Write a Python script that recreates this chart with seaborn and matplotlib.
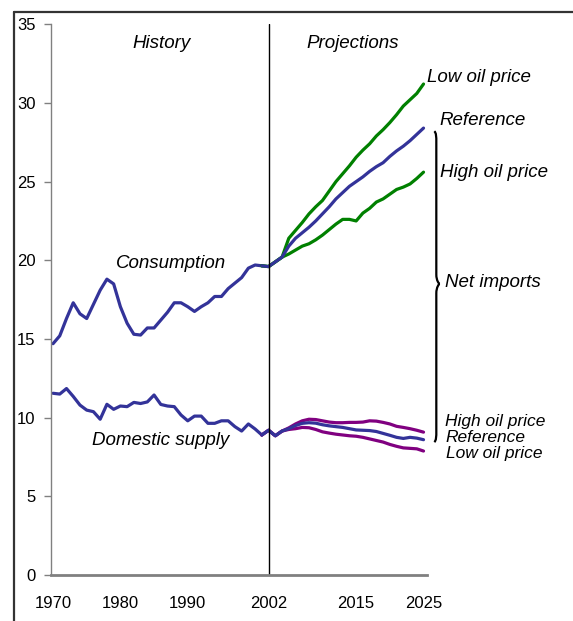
import numpy as np
import matplotlib
matplotlib.use("Agg")
import matplotlib.pyplot as plt
from matplotlib.path import Path
from matplotlib.patches import PathPatch
from matplotlib.lines import Line2D
import seaborn as sns

# History (1970-2001)
hist_years = list(range(1970, 2002))
consumption_hist = [14.7, 15.2, 16.3, 17.3, 16.6, 16.3, 17.2, 18.1, 18.8, 18.5,
                    17.05, 16.0, 15.3, 15.25, 15.7, 15.7, 16.2, 16.7, 17.3, 17.3,
                    17.05, 16.75, 17.05, 17.3, 17.7, 17.7, 18.2, 18.55, 18.9, 19.5,
                    19.7, 19.65]
domestic_hist = [11.55, 11.5, 11.85, 11.35, 10.8, 10.48, 10.38, 9.9, 10.85, 10.53,
                 10.74, 10.7, 10.97, 10.9, 11.0, 11.44, 10.84, 10.74, 10.7, 10.17,
                 9.8, 10.1, 10.1, 9.64, 9.64, 9.8, 9.8, 9.43, 9.15, 9.6,
                 9.28, 8.9]

# Projections (2001-2025)
proj_years = list(range(2001, 2026))
cons_low = [19.65, 19.6, 19.9, 20.2, 21.4, 21.9, 22.4, 22.95, 23.4, 23.8, 24.4, 25.0,
            25.5, 26.0, 26.55, 27.0, 27.4, 27.9, 28.3, 28.75, 29.25, 29.8, 30.2, 30.6, 31.2]
cons_ref = [19.65, 19.6, 19.9, 20.2, 20.9, 21.4, 21.75, 22.1, 22.5, 22.95, 23.4, 23.9,
            24.3, 24.7, 25.0, 25.3, 25.65, 25.95, 26.2, 26.6, 26.95, 27.25, 27.6, 28.0, 28.4]
cons_high = [19.65, 19.6, 19.9, 20.2, 20.4, 20.65, 20.9, 21.05, 21.3, 21.6, 21.95, 22.3,
             22.6, 22.6, 22.5, 23.0, 23.3, 23.7, 23.9, 24.2, 24.5, 24.65, 24.85, 25.2, 25.6]
dom_high = [8.9, 9.2, 8.85, 9.15, 9.35, 9.6, 9.8, 9.9, 9.88, 9.8, 9.72, 9.68,
            9.68, 9.7, 9.7, 9.72, 9.8, 9.78, 9.7, 9.6, 9.45, 9.38, 9.3, 9.2, 9.08]
dom_ref = [8.9, 9.2, 8.85, 9.15, 9.3, 9.5, 9.64, 9.68, 9.65, 9.55, 9.48, 9.43,
           9.38, 9.3, 9.22, 9.2, 9.18, 9.12, 9.0, 8.88, 8.75, 8.68, 8.75, 8.7, 8.6]
dom_low = [8.9, 9.2, 8.85, 9.15, 9.25, 9.3, 9.38, 9.36, 9.25, 9.1, 9.02, 8.95,
           8.9, 8.85, 8.82, 8.75, 8.65, 8.55, 8.45, 8.3, 8.18, 8.08, 8.05, 8.02, 7.88]

x_ticks = [1970, 1980, 1990, 2002, 2015, 2025]

blue = "#333399"
green = "#008000"
purple = "#800080"

sns.set_style("white")
plt.rcParams['font.family'] = ['Liberation Sans', 'DejaVu Sans']
plt.rcParams['text.color'] = 'black'

fig = plt.figure(figsize=(5.73, 6.21), dpi=100)
ax = fig.add_axes([0.089, 0.074, 0.656, 0.887])

lw = 2.3
sns.lineplot(x=hist_years, y=consumption_hist, color=blue, lw=lw, ax=ax)
sns.lineplot(x=hist_years, y=domestic_hist, color=blue, lw=lw, ax=ax)
sns.lineplot(x=proj_years, y=cons_low, color=green, lw=lw, ax=ax)
sns.lineplot(x=proj_years, y=cons_high, color=green, lw=lw, ax=ax)
sns.lineplot(x=proj_years, y=cons_ref, color=blue, lw=lw, ax=ax)
sns.lineplot(x=proj_years, y=dom_high, color=purple, lw=lw, ax=ax)
sns.lineplot(x=proj_years, y=dom_low, color=purple, lw=lw, ax=ax)
sns.lineplot(x=proj_years, y=dom_ref, color=blue, lw=lw, ax=ax)

ax.axvline(2002, ymin=0, ymax=1, color="black", lw=1)

ax.set_xlim(1969.7, 2025.5)
ax.set_ylim(0, 35)
ax.set_xticks(x_ticks)
ax.set_yticks(range(0, 36, 5))
ax.tick_params(axis="x", length=0, pad=15, labelsize=12, labelcolor="black")
ax.tick_params(axis="y", length=5, width=1, color="#808080", direction="out",
               pad=6, labelsize=12, left=True, labelcolor="black")
for s in ["top", "right"]:
    ax.spines[s].set_visible(False)
ax.spines["left"].set_color("#808080")
ax.spines["left"].set_linewidth(1)
ax.spines["bottom"].set_color("#808080")
ax.spines["bottom"].set_linewidth(2)

kw = dict(fontsize=13.5, style="italic", va="center")
ax.text(1986.05, 33.8, "History", ha="center", **kw)
ax.text(2014.55, 33.8, "Projections", ha="center", **kw)
ax.text(1987.5, 19.8, "Consumption", ha="center", **kw)
ax.text(1986.0, 8.53, "Domestic supply", ha="center", **kw)
ax.text(2025.5, 31.6, "Low oil price", ha="left", clip_on=False, **kw)
ax.text(2027.4, 28.86, "Reference", ha="left", clip_on=False, **kw)
ax.text(2027.4, 25.58, "High oil price", ha="left", clip_on=False, **kw)
ax.text(2028.15, 18.6, "Net imports", ha="left", clip_on=False, **kw)
kw2 = dict(fontsize=12.5, style="italic", va="center", ha="left", clip_on=False)
ax.text(2028.2, 9.75, "High oil price", **kw2)
ax.text(2028.3, 8.72, "Reference", **kw2)
ax.text(2028.3, 7.7, "Low oil price", **kw2)

# curly brace for net imports (reference case)
top, bot = cons_ref[-1] - 0.2, dom_ref[-1] - 0.15
mid = 18.5
xb, c = 2026.9, 0.35
verts = [(xb - 0.3, top), (xb, top - 0.1), (xb, top - c), (xb, top - 2 * c),
         (xb, mid + 0.6),
         (xb, mid + 0.2), (xb + 0.4, mid), (xb + 0.5, mid),
         (xb + 0.4, mid), (xb, mid - 0.2), (xb, mid - 0.6),
         (xb, bot + 2 * c),
         (xb, bot + c), (xb, bot + 0.1), (xb - 0.3, bot)]
codes = [Path.MOVETO, Path.CURVE4, Path.CURVE4, Path.CURVE4,
         Path.LINETO,
         Path.CURVE4, Path.CURVE4, Path.CURVE4,
         Path.CURVE4, Path.CURVE4, Path.CURVE4,
         Path.LINETO,
         Path.CURVE4, Path.CURVE4, Path.CURVE4]
ax.add_patch(PathPatch(Path(verts, codes), fill=False, lw=1.6, color="black",
                       clip_on=False))

# outer frame lines
fig.add_artist(Line2D([14 / 573, 14 / 573], [0, 1 - 12 / 621], color="#333333", lw=1.6))
fig.add_artist(Line2D([14 / 573, 1], [1 - 12 / 621, 1 - 12 / 621], color="#333333", lw=1.6))

fig.savefig("out.png", dpi=100)
